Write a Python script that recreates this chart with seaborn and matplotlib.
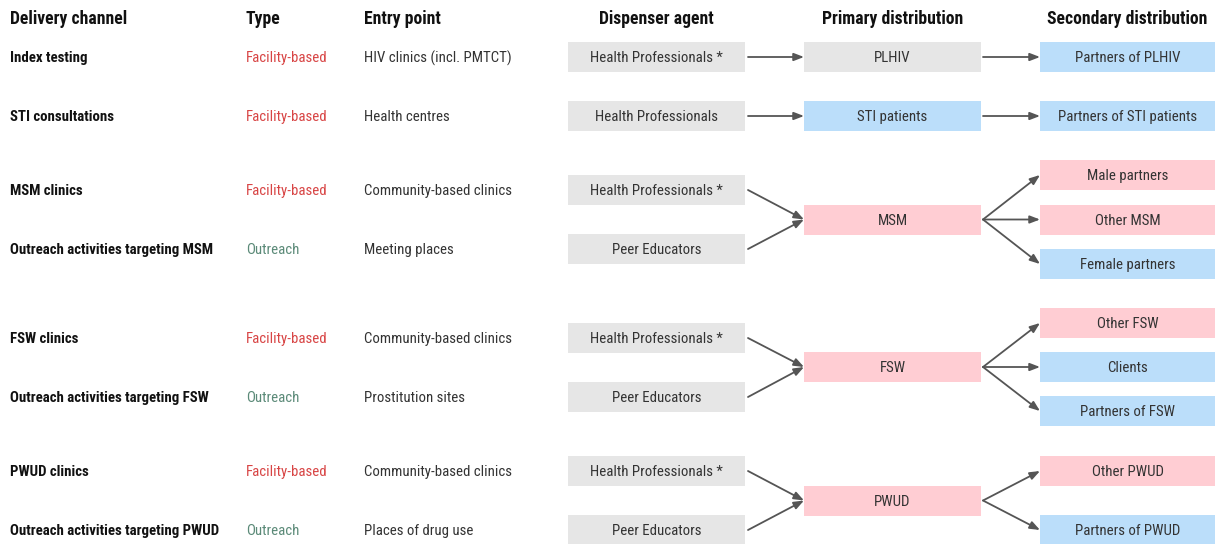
import matplotlib
matplotlib.use("Agg")
import matplotlib.pyplot as plt
import seaborn as sns
from matplotlib.patches import Rectangle, FancyArrowPatch

# ---------------- data ----------------
headers = ["Delivery channel", "Type", "Entry point",
           "Dispenser agent", "Primary distribution", "Secondary distribution"]

channels = ["Index testing", "STI consultations", "MSM clinics",
            "Outreach activities targeting MSM", "FSW clinics",
            "Outreach activities targeting FSW", "PWUD clinics",
            "Outreach activities targeting PWUD"]
types = ["Facility-based", "Facility-based", "Facility-based", "Outreach",
         "Facility-based", "Outreach", "Facility-based", "Outreach"]
entry_points = ["HIV clinics (incl. PMTCT)", "Health centres",
                "Community-based clinics", "Meeting places",
                "Community-based clinics", "Prostitution sites",
                "Community-based clinics", "Places of drug use"]
dispensers = ["Health Professionals *", "Health Professionals",
              "Health Professionals *", "Peer Educators",
              "Health Professionals *", "Peer Educators",
              "Health Professionals *", "Peer Educators"]

primary = ["PLHIV", "STI patients", "MSM", "FSW", "PWUD"]
primary_kind = ["gray", "blue", "pink", "pink", "pink"]
# which channel rows feed each primary node
primary_sources = [[0], [1], [2, 3], [4, 5], [6, 7]]

secondary = ["Partners of PLHIV", "Partners of STI patients",
             "Male partners", "Other MSM", "Female partners",
             "Other FSW", "Clients", "Partners of FSW",
             "Other PWUD", "Partners of PWUD"]
secondary_kind = ["blue", "blue", "pink", "pink", "blue",
                  "pink", "blue", "blue", "pink", "blue"]
secondary_parent = [0, 1, 2, 2, 2, 3, 3, 3, 4, 4]

# ---------------- layout (pixels) ----------------
W, H = 1215, 544
row_y = [57, 116, 190, 249, 338, 397, 471, 530]
primary_y = [57, 116, 219.5, 367, 500.5]
secondary_y = [57, 116, 175, 219.5, 264, 323, 367, 411, 471, 530]
box_h = 30
col_disp = (568, 745)
col_prim = (804, 981)
col_sec = (1040, 1215)

kind_color = {"gray": "#e6e6e6", "blue": "#bbdefa", "pink": "#ffcdd3"}
type_color = {"Facility-based": "#d84545", "Outreach": "#5b8a78"}
text_color = "#333333"
arrow_color = "#555555"

sns.set_theme(style="white")
plt.rcParams['font.family'] = ['Roboto Condensed', 'Roboto', 'DejaVu Sans']

fig = plt.figure(figsize=(W / 100, H / 100), dpi=100)
ax = fig.add_axes([0, 0, 1, 1])
ax.set_xlim(0, W)
ax.set_ylim(H, 0)
ax.axis("off")

fs = 10.7
hfs = 12.7
bl = 5.2    # baseline offset for body text (cap-height centred)
hbl = 6.2   # baseline offset for headers


def txt(x, y, s, ha="left", size=fs, off=bl, **kw):
    ax.text(x, y + off, s, ha=ha, va="baseline", fontsize=size, **kw)


# headers
txt(10, 18, headers[0], size=hfs, off=hbl, fontweight="bold", color="#111111")
txt(246, 18, headers[1], size=hfs, off=hbl, fontweight="bold", color="#111111")
txt(364, 18, headers[2], size=hfs, off=hbl, fontweight="bold", color="#111111")
for (x0, x1), h in zip([col_disp, col_prim, col_sec], headers[3:]):
    txt((x0 + x1) / 2, 18, h, ha="center", size=hfs, off=hbl,
        fontweight="bold", color="#111111")


def box(x0, x1, y, label, kind):
    ax.add_patch(Rectangle((x0, y - box_h / 2), x1 - x0, box_h,
                           facecolor=kind_color[kind], edgecolor="none"))
    txt((x0 + x1) / 2, y, label, ha="center", color=text_color)


def arrow(x0, y0, x1, y1):
    ax.add_patch(FancyArrowPatch((x0, y0), (x1, y1),
                                 arrowstyle="-|>,head_length=6,head_width=2.3",
                                 color=arrow_color, lw=1.3,
                                 shrinkA=0, shrinkB=0, mutation_scale=1))


for i, y in enumerate(row_y):
    txt(10, y, channels[i], fontweight="bold", color="#111111")
    txt(246, y, types[i], color=type_color[types[i]])
    txt(364, y, entry_points[i], color=text_color)
    box(*col_disp, y, dispensers[i], "gray")

for j, y in enumerate(primary_y):
    box(*col_prim, y, primary[j], primary_kind[j])
    for s in primary_sources[j]:
        arrow(col_disp[1] + 3, row_y[s], col_prim[0], y)

for k, y in enumerate(secondary_y):
    box(*col_sec, y, secondary[k], secondary_kind[k])
    p = secondary_parent[k]
    arrow(col_prim[1] + 2, primary_y[p], col_sec[0], y)

fig.savefig("out.png", dpi=100)
